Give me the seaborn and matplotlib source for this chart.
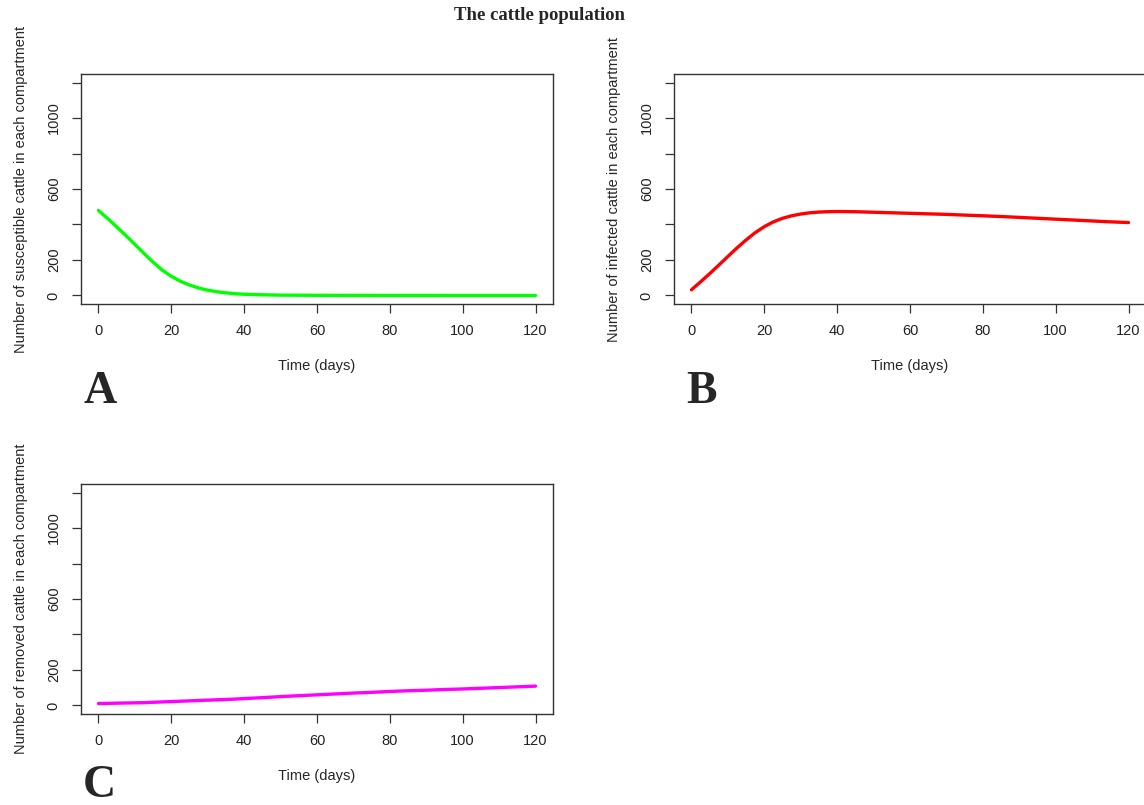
import numpy as np
import pandas as pd
import matplotlib
matplotlib.use("Agg")
import matplotlib.pyplot as plt
import seaborn as sns

# ==============================
# Data
# ==============================
time_days = [0, 2.5, 5, 7.5, 10, 12.5, 15, 17.5, 20, 22.5, 25, 27.5, 30,
             32.5, 35, 37.5, 40, 45, 50, 55, 60, 65, 70, 75, 80,
             85, 90, 95, 100, 105, 110, 115, 120]
susceptible = [479, 434, 387, 338, 288, 237, 188, 143, 108, 80, 59, 42, 30,
               21, 15, 10, 7, 4, 2, 1.5, 1, 0.7, 0.5, 0.4, 0.3,
               0.2, 0.2, 0.1, 0.1, 0.1, 0.1, 0.1, 0.1]
infected = [32, 77, 123, 171, 220, 268, 313, 354, 388, 415, 435, 449, 459,
            466, 470, 472, 473, 472, 469, 466, 463, 460, 457, 453, 449,
            445, 440, 435, 430, 425, 420, 415, 411]
removed = [11, 12, 13, 14, 15, 16, 18, 20, 22, 24, 26, 28, 30,
           32, 34, 36, 39, 44, 50, 55, 60, 65, 70, 74, 79,
           83, 86, 90, 93, 97, 101, 105, 109]

x_ticks = [0, 20, 40, 60, 80, 100, 120]
y_ticks = [0, 200, 400, 600, 800, 1000, 1200]
y_tick_labels = ["0", "200", "", "600", "", "1000", ""]

panels = [
    ("A", susceptible, "#00FF00", "Number of susceptible cattle in each compartment"),
    ("B", infected, "#FF0000", "Number of infected cattle in each compartment"),
    ("C", removed, "#FF00FF", "Number of removed cattle in each compartment"),
]

df = pd.DataFrame({"time": time_days, "S": susceptible, "I": infected, "R": removed})

# ==============================
# Style
# ==============================
sns.set_style("white")
plt.rcParams["font.family"] = ["Liberation Sans", "DejaVu Sans"]

W, H = 1144, 805
fig = plt.figure(figsize=(W / 100, H / 100), dpi=100)

# axes boxes in pixel coords (left, top)
boxes = [(81, 74), (674, 74), (81, 484)]
box_w, box_h = 472, 230
letter_pos = [(83, 403), (686, 403), (83, 797)]

for (letter, values, color, ylab), (left, top), (lx, ly) in zip(panels, boxes, letter_pos):
    ax = fig.add_axes([left / W, 1 - (top + box_h) / H, box_w / W, box_h / H])
    sns.lineplot(x=df["time"], y=values, ax=ax, color=color, linewidth=2.4)
    ax.set_xlim(-4.8, 124.8)
    ax.set_ylim(-48, 1248)
    ax.set_xticks(x_ticks)
    ax.set_yticks(y_ticks)
    ax.set_yticklabels(y_tick_labels, rotation=90, va="center")
    ax.tick_params(axis="both", direction="out", length=6.5, width=0.9,
                   color="#333333", labelsize=10.5, labelcolor="#222222",
                   bottom=True, left=True)
    ax.tick_params(axis="x", pad=8)
    ax.tick_params(axis="y", pad=8)
    for sp in ax.spines.values():
        sp.set_visible(True)
        sp.set_color("#333333")
        sp.set_linewidth(1.0)
    ax.set_xlabel("Time (days)", fontsize=10.5)
    ax.set_ylabel(ylab, fontsize=10.5)
    ax.xaxis.set_label_coords(0.5, -0.24)
    ax.yaxis.set_label_coords(-0.113, 0.5)
    ax.grid(False)

    fig.text(lx / W, 1 - ly / H, letter, ha="left", va="baseline",
             fontsize=33, fontweight="bold", family=["Liberation Serif", "DejaVu Serif"])

fig.text(539 / W, 1 - 16 / H, "The cattle population", ha="center", va="center",
         fontsize=13.5, fontweight="bold", family=["Liberation Serif", "DejaVu Serif"])

fig.savefig("out.png", dpi=100)
plt.close()
